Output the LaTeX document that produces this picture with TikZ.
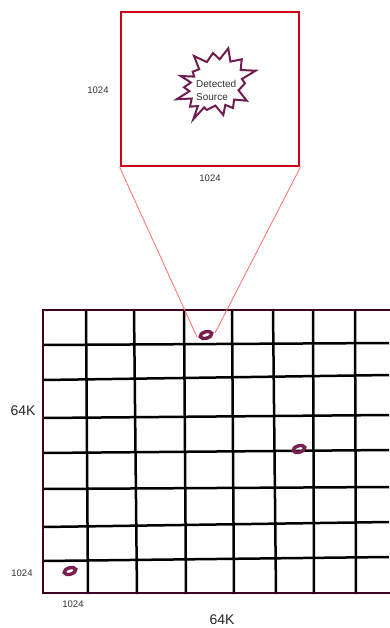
\documentclass[tikz,border=0pt]{standalone}
\usepackage{fontspec}
\setmainfont{Liberation Sans}
\definecolor{boxred}{RGB}{204,0,24}
\definecolor{thinred}{RGB}{255,110,110}
\definecolor{starcol}{RGB}{112,30,80}
\definecolor{blobcol}{RGB}{120,30,80}
\definecolor{gridborder}{RGB}{60,0,35}
\definecolor{labelgray}{RGB}{50,50,50}
\begin{document}
\begin{tikzpicture}[x=1pt,y=-1pt,
  smalllabel/.style={font=\fontsize{9.5}{11}\selectfont, text=labelgray, inner sep=0pt},
  biglabel/.style={font=\fontsize{14}{16}\selectfont, text=black!85, inner sep=0pt},
  gridline/.style={line width=2.5pt, black},
  blobring/.style={draw=blobcol, line width=3.4pt},
  zoomline/.style={draw=thinred, line width=0.8pt}]
\useasboundingbox (0,0) rectangle (389,628);
\fill[white] (0,0) rectangle (389,628);

% zoom box
\node[draw=boxred, line width=2.6pt, minimum width=178pt, minimum height=154pt, inner sep=0pt] (zoombox) at (210,89) {};

% starburst
\draw[starcol, line width=2pt, line join=miter, fill=white]
 (228.3,48.3) -- (230.4,61.6) -- (241.7,59.3) -- (240.7,70) -- (255.7,70.7) -- (241.9,79)
 -- (245,83.3) -- (238.5,90.3) -- (246.7,100.7) -- (234.1,99.6) -- (233,108) -- (225.3,104.9)
 -- (223.3,115) -- (215.4,105.6) -- (206.7,110) -- (204.2,107.3) -- (193.3,119.3) -- (197.9,106)
 -- (190,106.7) -- (191.7,98.5) -- (176.7,99.3) -- (189.4,91.2) -- (184,87.3) -- (190.9,82.5)
 -- (180.7,76) -- (194.2,76.6) -- (192.7,71.7) -- (199.2,69.2) -- (194,56) -- (206.8,62.1)
 -- (213,53) -- (219.7,59.3) -- cycle;
\node[font=\fontsize{10}{13}\selectfont, text=labelgray, align=left, anchor=west, inner sep=0pt] (srclabel) at (196,90.5) {Detected\\Source};

\node[smalllabel] (boxleft) at (98,90) {1024};
\node[smalllabel] (boxbottom) at (210,178) {1024};

% grid
\foreach \ya/\yb in {345/343, 380/375, 418/415, 453/450, 489/487, 527/522, 561/557}
  \draw[gridline] (43,\ya) -- (389,\yb);
\foreach \xa/\xb in {86/88, 134/137, 184/186, 232/234, 273/276, 313/314, 355/356}
  \draw[gridline] (\xa,309) -- (\xb,594);
\draw[gridborder, line width=2pt] (392,310) -- (43,310) -- (43,593) -- (392,593);

% detected sources
\coordinate (src1) at (206,335);
\coordinate (src2) at (299,449);
\coordinate (src3) at (70,571);
\draw[blobring, rotate around={16:(src1)}] (src1) ellipse (6 and 3.2);
\draw[blobring, rotate around={16:(src2)}] (src2) ellipse (6 and 3.2);
\draw[blobring, rotate around={16:(src3)}] (src3) ellipse (6 and 3.2);

% zoom lines
\coordinate (zl) at (197,337);
\coordinate (zr) at (215,333);
\draw[zoomline] (zoombox.south west) -- (zl);
\draw[zoomline] (zoombox.south east) -- (zr);

% labels
\node[biglabel] (leftK) at (23,411) {64K};
\node[biglabel] (bottomK) at (222,620) {64K};
\node[smalllabel] (cellleft) at (22,573) {1024};
\node[smalllabel] (cellbottom) at (73,604) {1024};
\end{tikzpicture}
\end{document}
